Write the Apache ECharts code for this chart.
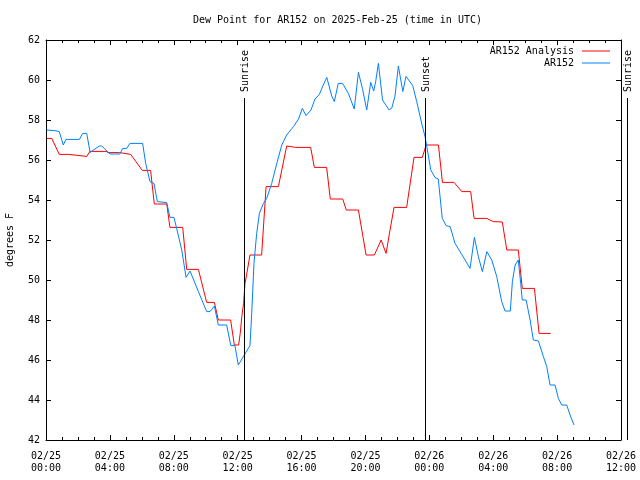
<!DOCTYPE html>
<html>
<head>
<meta charset="utf-8">
<script src="https://cdn.jsdelivr.net/npm/echarts@6/dist/echarts.min.js"></script>
<style>html,body{margin:0;padding:0;background:#fff}#c{width:640px;height:480px}</style>
</head>
<body>
<div id="c"></div>
<script>
// hours since 2025-02-25 00:00 UTC
var tickLabels = ['02/25\n00:00','02/25\n04:00','02/25\n08:00','02/25\n12:00','02/25\n16:00','02/25\n20:00','02/26\n00:00','02/26\n04:00','02/26\n08:00','02/26\n12:00'];

var analysisHours = [0.04,0.36,0.83,1.40,1.45,2.55,2.75,3.76,3.90,4.60,4.65,5.30,6.03,6.55,6.78,7.56,7.76,8.56,8.81,9.54,10.06,10.54,10.79,11.56,11.79,12.06,12.16,12.26,12.37,12.46,12.61,12.77,13.50,13.78,14.55,15.07,15.63,16.57,16.80,17.57,17.80,18.58,18.80,19.56,20.04,20.56,20.98,21.29,21.54,21.79,22.58,23.04,23.56,23.80,24.57,24.82,25.55,26.03,26.59,26.80,27.60,28.00,28.57,28.85,29.57,29.82,30.58,30.87,31.60];
var analysisValues = [57.08,57.08,56.28,56.28,56.18,56.18,56.43,56.43,56.37,56.37,56.28,56.28,55.48,55.48,53.80,53.80,52.63,52.63,50.53,50.53,48.88,48.88,48.00,48.00,46.75,46.75,47.33,48.17,48.83,49.83,50.50,51.25,51.25,54.67,54.67,56.70,56.63,56.63,55.63,55.63,54.05,54.05,53.50,53.50,51.25,51.25,52.00,51.33,52.50,53.63,53.63,56.13,56.13,56.75,56.75,54.88,54.88,54.42,54.42,53.08,53.08,52.92,52.90,51.50,51.50,49.58,49.58,47.33,47.33];

var obsHours = [0.04,0.56,0.83,1.08,1.25,2.09,2.30,2.55,2.76,3.34,3.49,4.01,4.63,4.80,5.05,5.26,6.05,6.24,6.51,6.76,6.97,7.56,7.76,8.01,8.18,8.50,8.77,9.02,9.54,10.06,10.27,10.54,10.79,11.31,11.57,11.83,12.04,12.77,12.88,13.02,13.19,13.36,13.61,13.82,14.13,14.45,14.76,15.07,15.49,15.80,16.05,16.28,16.59,16.84,17.11,17.36,17.58,17.89,18.05,18.30,18.57,18.93,19.30,19.56,19.81,20.08,20.33,20.52,20.64,20.81,21.07,21.48,21.65,21.85,22.06,22.34,22.54,22.96,23.21,23.53,23.73,23.88,24.09,24.36,24.56,24.81,25.05,25.30,25.61,25.92,26.30,26.55,26.82,27.07,27.32,27.60,27.91,28.22,28.53,28.74,29.07,29.20,29.37,29.57,29.72,29.82,30.06,30.31,30.51,30.83,31.14,31.35,31.56,31.87,32.08,32.29,32.60,32.81,33.06];
var obsValues = [57.50,57.47,57.42,56.75,57.03,57.03,57.33,57.33,56.38,56.70,56.70,56.30,56.30,56.58,56.58,56.83,56.83,55.83,54.92,54.83,53.92,53.87,53.13,53.13,52.58,51.50,50.13,50.45,49.42,48.42,48.42,48.70,47.75,47.75,46.72,46.72,45.75,46.72,48.33,50.83,52.33,53.33,53.83,54.08,54.83,55.83,56.75,57.25,57.67,58.03,58.58,58.22,58.50,59.05,59.27,59.75,60.13,59.20,58.92,59.83,59.83,59.33,58.55,60.38,59.58,58.50,59.88,59.45,59.92,60.83,59.00,58.50,58.60,59.20,60.70,59.42,60.18,59.72,58.92,57.80,57.17,56.50,55.50,55.12,55.05,53.08,52.72,52.67,51.83,51.42,50.92,50.58,52.13,51.17,50.42,51.42,51.00,50.17,48.92,48.45,48.45,49.92,50.75,51.00,49.83,49.00,49.00,48.00,47.00,46.95,46.17,45.67,44.75,44.75,44.08,43.75,43.75,43.25,42.75];

var eventHours = [12.42, 23.75, 36.40];
var eventLabels = ['Sunrise', 'Sunset', 'Sunrise'];

function zip(a, b){ return a.map(function(v,i){ return [v, b[i]]; }); }

var FONT = 'DejaVu Sans Mono';
var chart = echarts.init(document.getElementById('c'), null, {renderer:'canvas'});
var xCommon = {
  type:'value', min:0, max:36, interval:4,
  axisLine:{show:true, onZero:false, lineStyle:{color:'#000', width:1}},
  axisTick:{show:true, inside:true, length:5, lineStyle:{color:'#000'}},
  minorTick:{show:true, splitNumber:4, length:3, lineStyle:{color:'#000'}},
  splitLine:{show:false}
};
var yCommon = {
  type:'value', min:42, max:62, interval:2,
  axisLine:{show:true, onZero:false, lineStyle:{color:'#000', width:1}},
  axisTick:{show:true, inside:true, length:5, lineStyle:{color:'#000'}},
  splitLine:{show:false}
};
chart.setOption({
  animation:false,
  backgroundColor:'#fff',
  textStyle:{fontFamily:FONT},
  title:{text:'Dew Point for AR152 on 2025-Feb-25 (time in UTC)', left:188, top:10,
    textStyle:{fontFamily:FONT, fontSize:10, fontWeight:'normal', color:'#000'}},
  legend:{
    data:[{name:'AR152 Analysis', icon:'rect'},{name:'AR152', icon:'rect'}],
    orient:'vertical', right:25, top:40, align:'right',
    itemWidth:28, itemHeight:1, itemGap:0,
    textStyle:{fontFamily:FONT, fontSize:10, color:'#000', lineHeight:12, padding:[0,3,0,0]}
  },
  grid:{left:46, right:19, top:40, bottom:40, containLabel:false, outerBoundsMode:'none'},
  xAxis:[
    Object.assign({}, xCommon, {position:'bottom',
      axisLabel:{show:true, margin:10, fontFamily:FONT, fontSize:10, color:'#000', lineHeight:12,
        formatter:function(v){ return tickLabels[Math.round(v/4)]; }}}),
    Object.assign({}, xCommon, {position:'top', axisLabel:{show:false}})
  ],
  yAxis:[
    Object.assign({}, yCommon, {position:'left', name:'degrees F', nameLocation:'middle', nameGap:31,
      nameTextStyle:{fontFamily:FONT, fontSize:10, color:'#000'},
      axisLabel:{show:true, margin:6, fontFamily:FONT, fontSize:10, color:'#000'}}),
    Object.assign({}, yCommon, {position:'right', axisLabel:{show:false}})
  ],
  series:[
    {name:'AR152 Analysis', type:'line', data:zip(analysisHours, analysisValues), symbol:'none',
      lineStyle:{color:'#ff0000', width:1}, itemStyle:{color:'#ff0000'}},
    {name:'AR152', type:'line', data:zip(obsHours, obsValues), symbol:'none',
      lineStyle:{color:'#0080ff', width:1}, itemStyle:{color:'#0080ff'}},
    {name:'events', type:'custom', clip:false, z:5,
      data:eventHours.map(function(h){ return [h, 59.1]; }),
      renderItem:function(params, api){
        var x = api.value(0);
        var top = api.coord([x, api.value(1)]);
        var bot = api.coord([x, 42]);
        var px = Math.round(top[0]) + 0.5;
        return {type:'group', children:[
          {type:'line', shape:{x1:px, y1:top[1], x2:px, y2:bot[1]}, style:{stroke:'#000', lineWidth:1}},
          {type:'text', x:px+1, y:top[1]-6, rotation:Math.PI/2,
            style:{text:eventLabels[params.dataIndex], fill:'#000', font:'10px "DejaVu Sans Mono"', align:'left', verticalAlign:'middle'}}
        ]};
      }
    }
  ]
});
</script>
</body>
</html>
